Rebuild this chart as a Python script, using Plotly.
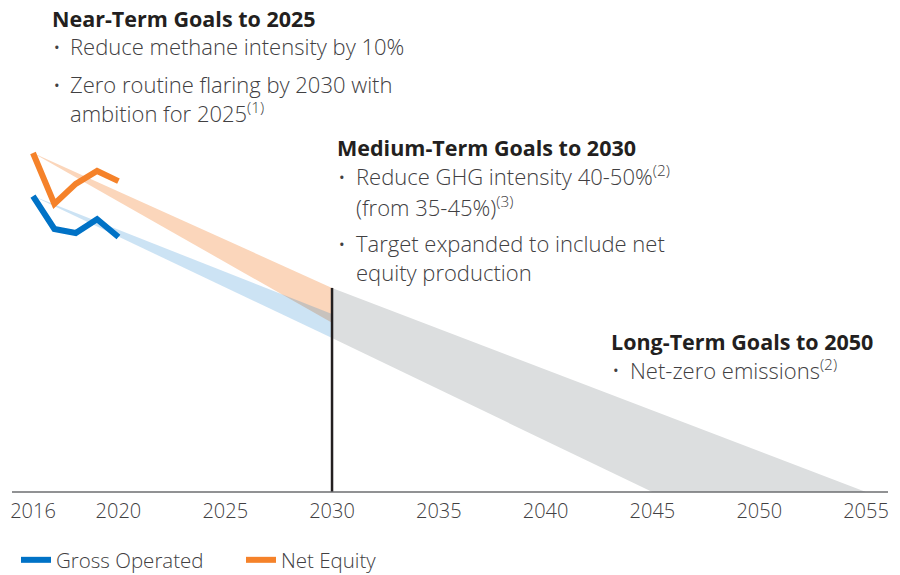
import plotly.graph_objects as go

# ---------------- data ----------------
years_hist = [2016, 2017, 2018, 2019, 2020]
gross_operated = [87.3, 77.6, 76.4, 80.5, 75.2]
net_equity = [100.0, 85.0, 90.9, 94.7, 91.7]

band_years = [2016, 2030]
net_equity_2030 = [60.2, 49.9]      # upper, lower target at 2030
gross_operated_2030 = [52.5, 45.4]  # upper, lower target at 2030
netzero_years = [2055, 2045]        # upper edge / lower edge reach zero

tick_years = [2016, 2020, 2025, 2030, 2035, 2040, 2045, 2050, 2055]

# ---------------- styles ----------------
BLUE = "#0072C6"
ORANGE = "#F5822A"
TXT = "#414042"
HEAD = "#231F20"
FONT = "Open Sans"

W, H = 900, 575
BASE = 492              # axis baseline (px from top)
B = H - BASE

def px(x):
    return x / W

def py(y):
    return (BASE - y) / BASE

fig = go.Figure()

# gray long-term band
fig.add_trace(go.Scatter(
    x=[band_years[1], netzero_years[0], netzero_years[1], band_years[1]],
    y=[net_equity_2030[0], 0, 0, gross_operated_2030[1]],
    fill="toself", fillcolor="#DCDEDF", line=dict(width=0),
    mode="lines", showlegend=False, hoverinfo="skip"))

# net equity band
fig.add_trace(go.Scatter(
    x=[band_years[0], band_years[1], band_years[1], band_years[0]],
    y=[net_equity[0], net_equity_2030[0], net_equity_2030[1], net_equity[0]],
    fill="toself", fillcolor="#FBD6BB", line=dict(width=0),
    mode="lines", showlegend=False, hoverinfo="skip"))

# gross operated band
fig.add_trace(go.Scatter(
    x=[band_years[0], band_years[1], band_years[1], band_years[0]],
    y=[gross_operated[0], gross_operated_2030[0], gross_operated_2030[1], gross_operated[0]],
    fill="toself", fillcolor="rgba(0,114,198,0.2)", line=dict(width=0),
    mode="lines", showlegend=False, hoverinfo="skip"))

# 2030 marker line
fig.add_trace(go.Scatter(
    x=[band_years[1], band_years[1]], y=[net_equity_2030[0], 0],
    mode="lines", line=dict(color=HEAD, width=2.5),
    showlegend=False, hoverinfo="skip"))

# historical lines
fig.add_trace(go.Scatter(
    x=years_hist, y=gross_operated, name="Gross Operated",
    mode="lines", line=dict(color=BLUE, width=6)))
fig.add_trace(go.Scatter(
    x=years_hist, y=net_equity, name="Net Equity",
    mode="lines", line=dict(color=ORANGE, width=6)))

# axis line
fig.add_shape(type="line", xref="paper", yref="paper",
              x0=px(12), x1=px(888), y0=0, y1=0,
              line=dict(color="#6D6E71", width=1.5))

# ---------------- text ----------------
def head(x, y, t):
    fig.add_annotation(x=px(x), y=py(y), xref="paper", yref="paper",
                       text=t, showarrow=False, xanchor="left", yanchor="middle",
                       borderpad=0,
                       font=dict(family=FONT, size=21.5, color=HEAD, weight="bold"))

def line(x, y, t):
    fig.add_annotation(x=px(x), y=py(y), xref="paper", yref="paper",
                       text=t, showarrow=False, xanchor="left", yanchor="middle",
                       borderpad=0,
                       font=dict(family=FONT, size=22, color=TXT, weight=300))

def bullet(x, y):
    fig.add_annotation(x=px(x), y=py(y), xref="paper", yref="paper",
                       text="•", showarrow=False, xanchor="center", yanchor="middle",
                       borderpad=0,
                       font=dict(family=FONT, size=15, color=TXT))

head(51, 19, "Near-Term Goals to 2025")
bullet(57, 47); line(69, 46, "Reduce methane intensity by 10%")
bullet(57, 85); line(69, 84, "Zero routine flaring by 2030 with")
line(69, 113, "ambition for 2025<sup>(1)</sup>")

head(336, 147, "Medium-Term Goals to 2030")
bullet(342, 177); line(355, 176, "Reduce GHG intensity 40-50%<sup>(2)</sup>")
line(355, 206, "(from 35-45%)<sup>(3)</sup>")
bullet(342, 244); line(355, 243, "Target expanded to include net")
line(355, 272, "equity production")

head(610, 341, "Long-Term Goals to 2050")
bullet(616, 370); line(629, 369, "Net-zero emissions<sup>(2)</sup>")

# ---------------- layout ----------------
K = (866 - 33) / 39.0   # px per year
fig.update_layout(
    width=W, height=H,
    margin=dict(l=0, r=0, t=0, b=B, autoexpand=False),
    paper_bgcolor="white", plot_bgcolor="white",
    showlegend=True,
    legend=dict(orientation="h", x=px(16), y=py(560), xanchor="left", yanchor="middle",
                font=dict(family=FONT, size=20.5, color=TXT, weight=300),
                itemwidth=30, entrywidth=180, tracegroupgap=0, bgcolor="rgba(0,0,0,0)"),
    xaxis=dict(range=[2016 - 33 / K, 2016 + (900 - 33) / K],
               tickvals=tick_years, ticktext=[str(t) for t in tick_years],
               showgrid=False, zeroline=False, showline=False,
               ticks="outside", ticklen=1, tickcolor="rgba(0,0,0,0)",
               tickfont=dict(family=FONT, size=20, color=TXT, weight=300), fixedrange=True),
    yaxis=dict(range=[0, BASE / 3.39], visible=False, fixedrange=True),
)

fig.write_html("out.html", config={"displayModeBar": False},
               post_script="document.body.style.margin='0px';")
